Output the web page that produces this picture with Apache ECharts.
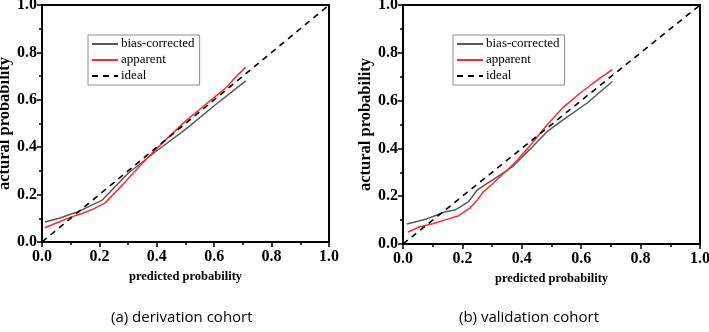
<!DOCTYPE html>
<html>
<head>
<meta charset="utf-8">
<script src="https://cdn.jsdelivr.net/npm/echarts@6/dist/echarts.min.js"></script>
<style>
html,body{margin:0;padding:0;background:#fff;}
#chart{width:709px;height:332px;}
</style>
</head>
<body>
<div id="chart"></div>
<script>
// (a) derivation cohort
var derivBiasX = [0.01, 0.06, 0.13, 0.21, 0.30, 0.40, 0.50, 0.60, 0.71];
var derivBiasY = [0.084, 0.10, 0.13, 0.177, 0.29, 0.385, 0.475, 0.575, 0.68];
var derivAppX = [0.01, 0.05, 0.10, 0.14, 0.18, 0.22, 0.28, 0.34, 0.40, 0.50, 0.55, 0.60, 0.645, 0.67, 0.71];
var derivAppY = [0.06, 0.08, 0.105, 0.12, 0.14, 0.165, 0.24, 0.32, 0.395, 0.51, 0.56, 0.61, 0.655, 0.69, 0.738];
// (b) validation cohort
var validBiasX = [0.013, 0.08, 0.14, 0.175, 0.22, 0.25, 0.31, 0.37, 0.43, 0.485, 0.54, 0.62, 0.705];
var validBiasY = [0.084, 0.105, 0.134, 0.142, 0.176, 0.226, 0.275, 0.325, 0.40, 0.47, 0.52, 0.59, 0.68];
var validAppX = [0.017, 0.057, 0.10, 0.14, 0.185, 0.225, 0.25, 0.27, 0.30, 0.34, 0.377, 0.43, 0.485, 0.54, 0.60, 0.663, 0.705];
var validAppY = [0.05, 0.072, 0.085, 0.10, 0.117, 0.15, 0.184, 0.218, 0.25, 0.297, 0.34, 0.415, 0.498, 0.573, 0.635, 0.694, 0.73];
// reference line
var idealX = [0, 1];
var idealY = [0, 1];

var seriesNames = ['bias-corrected', 'apparent', 'ideal'];
var captions = ['(a) derivation cohort', '(b) validation cohort'];
var xName = 'predicted probability';
var yName = 'actural probability';

function pairs(xs, ys){
    var out = [];
    for(var i=0;i<xs.length;i++){
        out.push([xs[i], ys[i]]);
    }
    return out;
}

var serif = '"Liberation Serif", "Times New Roman", serif';

function makeAxis(idx, isX){
    return {
        type: 'value',
        gridIndex: idx,
        min: 0,
        max: 1,
        interval: 0.2,
        name: isX ? xName : yName,
        nameLocation: 'middle',
        nameGap: isX ? 18 : 27,
        nameTextStyle: {fontFamily: serif, fontWeight: 'bold', fontSize: isX ? 12.5 : 16.5, color: '#000'},
        axisLine: {show: true, lineStyle: {color: '#000', width: 2}},
        axisTick: {show: true, length: 5, lineStyle: {color: '#000', width: 1.5}},
        minorTick: {show: true, splitNumber: 2, length: 3, lineStyle: {color: '#000', width: 1.5}},
        splitLine: {show: false},
        axisLabel: {
            fontFamily: serif, fontWeight: 'bold', fontSize: 16, color: '#000',
            margin: isX ? 7 : 5,
            formatter: function(v){ return v.toFixed(1); }
        }
    };
}

function makeSeries(idx, biasX, biasY, appX, appY){
    return [
        {
            name: seriesNames[0], type: 'line', xAxisIndex: idx, yAxisIndex: idx,
            data: pairs(biasX, biasY), symbol: 'none',
            lineStyle: {color: '#595959', width: 1.5}, itemStyle: {color: '#595959'}
        },
        {
            name: seriesNames[1], type: 'line', xAxisIndex: idx, yAxisIndex: idx,
            data: pairs(appX, appY), symbol: 'none',
            lineStyle: {color: '#ff2b2b', width: 1.5}, itemStyle: {color: '#ff2b2b'}
        },
        {
            name: seriesNames[2], type: 'line', xAxisIndex: idx, yAxisIndex: idx,
            data: pairs(idealX, idealY), symbol: 'none',
            lineStyle: {color: '#000', width: 1.6, type: [6, 5]}, itemStyle: {color: '#000'}
        }
    ];
}

function makeLegend(left){
    return {
        orient: 'vertical',
        left: left,
        top: 35,
        data: seriesNames,
        itemWidth: 26,
        itemHeight: 10,
        itemGap: 2,
        padding: [2, 5, 2, 3],
        borderColor: '#8c8c8c',
        borderWidth: 1,
        selectedMode: false,
        itemStyle: {opacity: 0, borderWidth: 0},
        textStyle: {fontFamily: serif, fontSize: 13, color: '#000', lineHeight: 14, padding: [0, 0, 0, -2]}
    };
}

var chart = echarts.init(document.getElementById('chart'), null, {renderer: 'canvas'});
var option = {
    backgroundColor: '#fff',
    animation: false,
    grid: [
        {left: 42, top: 5, width: 287, height: 237, show: true, borderColor: '#000', borderWidth: 2, containLabel: false, outerBoundsMode: 'none'},
        {left: 403, top: 5, width: 297, height: 239, show: true, borderColor: '#000', borderWidth: 2, containLabel: false, outerBoundsMode: 'none'}
    ],
    xAxis: [makeAxis(0, true), makeAxis(1, true)],
    yAxis: [makeAxis(0, false), makeAxis(1, false)],
    legend: [makeLegend(88), makeLegend(453)],
    series: makeSeries(0, derivBiasX, derivBiasY, derivAppX, derivAppY)
        .concat(makeSeries(1, validBiasX, validBiasY, validAppX, validAppY)),
    graphic: [
        {type: 'text', left: 111, top: 310, style: {text: captions[0], fontFamily: '"Open Sans", sans-serif', fontSize: 15, fill: '#000'}},
        {type: 'text', left: 459, top: 310, style: {text: captions[1], fontFamily: '"Open Sans", sans-serif', fontSize: 15, fill: '#000'}}
    ]
};
chart.setOption(option);
</script>
</body>
</html>
